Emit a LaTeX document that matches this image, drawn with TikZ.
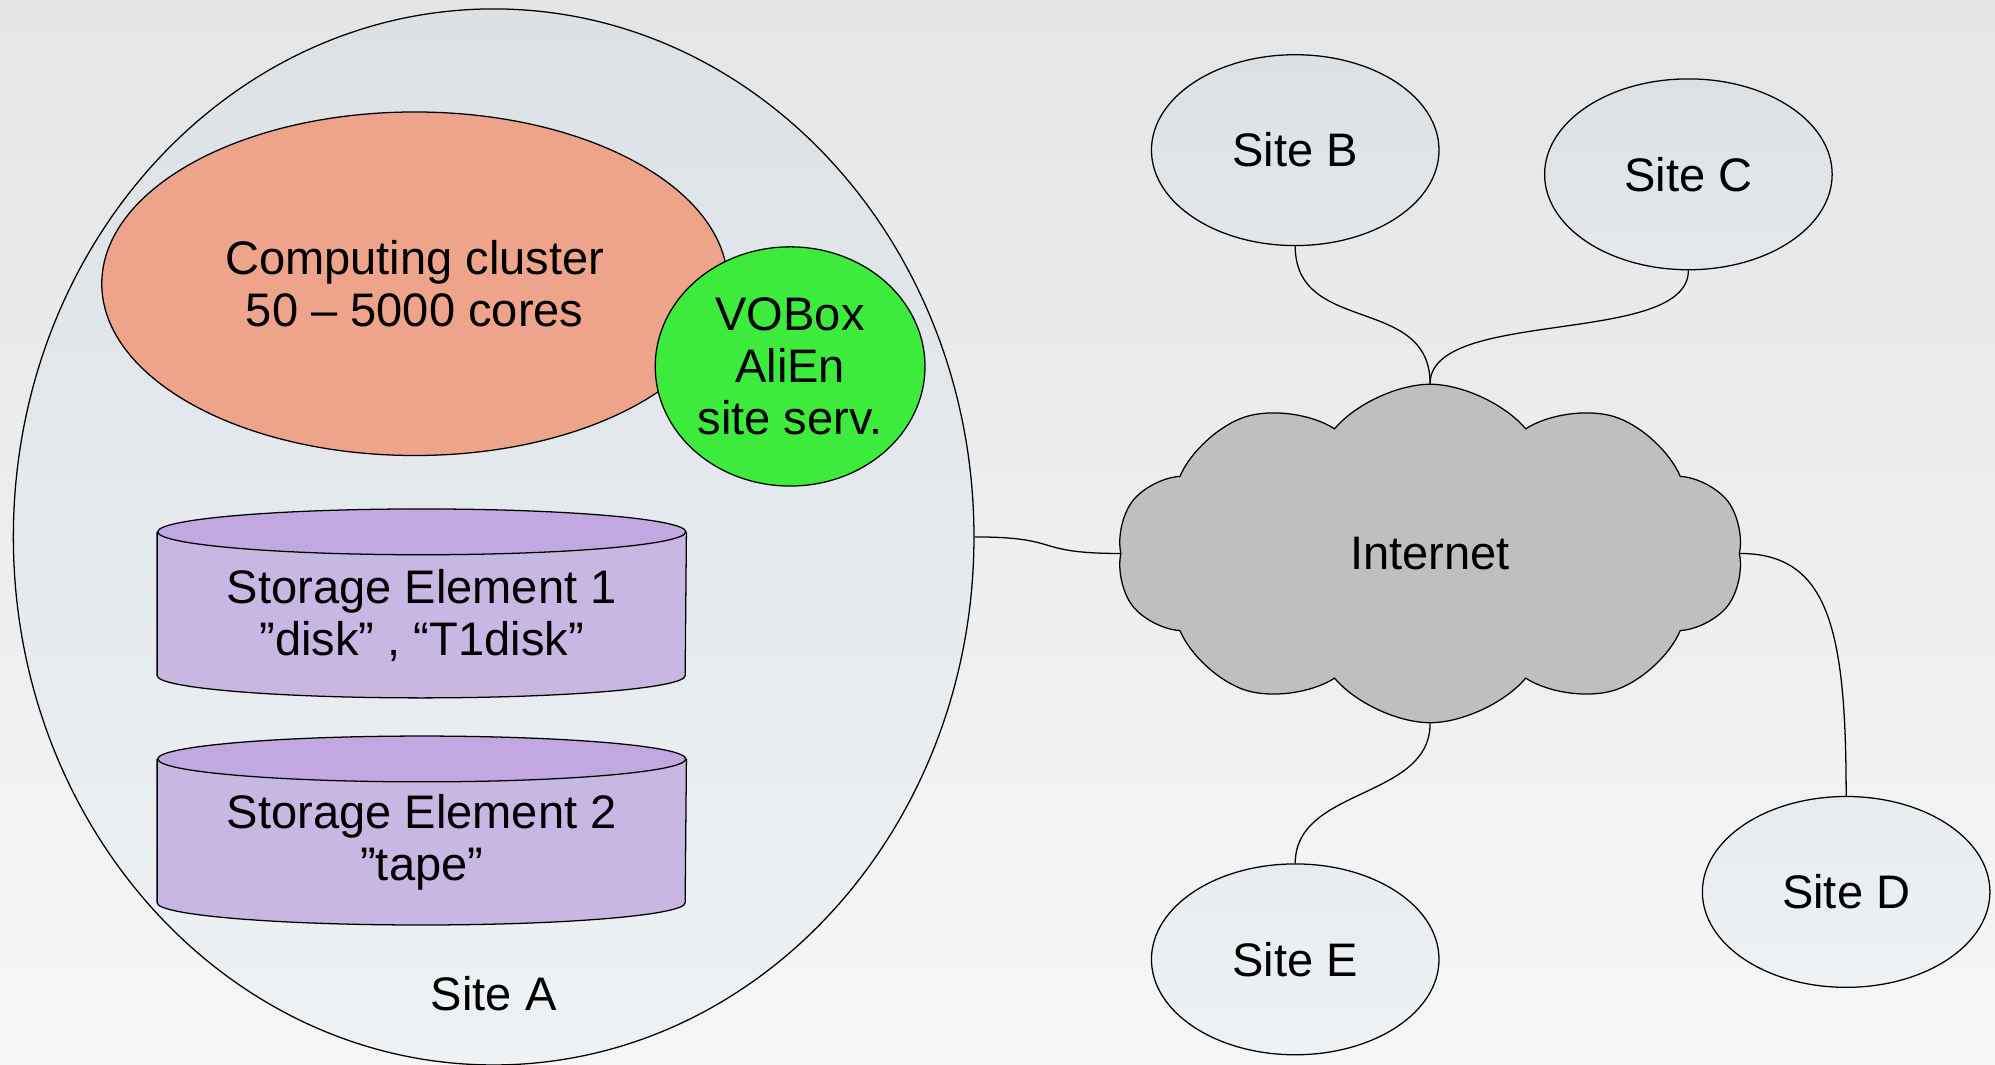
\documentclass[tikz,border=0pt]{standalone}
\usepackage{fontspec}
\setmainfont{Liberation Sans}
\usetikzlibrary{shapes.geometric, shapes.symbols}

\definecolor{bgtop}{HTML}{E5E5E5}
\definecolor{bgbot}{HTML}{F6F6F6}
\definecolor{sitetop}{HTML}{DCE1E6}
\definecolor{sitebot}{HTML}{EEF2F5}
\definecolor{clusterfill}{HTML}{EEA38B}
\definecolor{voboxfill}{HTML}{3DEB3D}
\definecolor{setop}{HTML}{C2A8E0}
\definecolor{sebody}{HTML}{C8B6E3}
\definecolor{netfill}{HTML}{BFBFBF}

\begin{document}
\begin{tikzpicture}[x=0.5pt, y=-0.5pt, line width=0.5pt,
    every node/.style={font=\fontsize{18.5}{20.5}\selectfont, align=center},
    region/.style={ellipse, draw, inner sep=0pt},
    site/.style={region, minimum width=113pt, minimum height=75pt},
    store/.style={rectangle, inner sep=0pt, minimum width=207.5pt, minimum height=56pt},
    link/.style={draw, line width=0.5pt}]
  \useasboundingbox (0,0) rectangle (1568,837);
  \shade[top color=bgtop, bottom color=bgbot] (0,0) rectangle (1568,837);

  % site A and what it holds
  \node[region, top color=sitetop, bottom color=sitebot,
    minimum width=377.5pt, minimum height=415pt] (sitea) at (388,422) {};
  \node[region, fill=clusterfill, minimum width=246pt, minimum height=135pt]
    (cluster) at (326,223) {Computing cluster\\50 – 5000 cores};
  \node[region, fill=voboxfill, minimum width=106pt, minimum height=94pt]
    (vobox) at (621,288) {VOBox\\AliEn\\site serv.};

  % storage elements: body nodes, cylinders drawn round them
  \node[store] (se1) at (331.5,474.5) {};
  \node[store] (se2) at (331.5,653) {};
  \foreach \se in {se1, se2} {
    \draw[fill=sebody] (\se.north west) -- (\se.south west)
      arc[start angle=180, end angle=360, x radius=103.75pt, y radius=8.75pt]
      -- (\se.north east);
    \draw[fill=setop] (\se.north) ellipse[x radius=103.75pt, y radius=9pt];
  }
  \node[yshift=-4.5pt] (se1label) at (se1) {Storage Element 1\\”disk” , “T1disk”};
  \node[yshift=-4.5pt] (se2label) at (se2) {Storage Element 2\\”tape”};
  \node (sitealabel) at (388,781) {Site A};

  % the other sites
  \node[site, top color=sitetop, bottom color=sitetop!70!sitebot] (siteb) at (1018,118) {Site B};
  \node[site, top color=sitetop, bottom color=sitetop!60!sitebot] (sitec) at (1327,137) {Site C};
  \node[site, top color=sitetop!40!sitebot, bottom color=sitebot] (sited) at (1451,701) {Site D};
  \node[site, top color=sitetop!35!sitebot, bottom color=sitebot] (sitee) at (1018,754) {Site E};

  \node[cloud, draw, fill=netfill, cloud puffs=10, cloud puff arc=100, aspect=1.85,
    minimum width=246pt, minimum height=133pt] (net) at (1124,435) {Internet};

  % links
  \draw[link] (siteb.south) .. controls +(0,70) and +(0,-70) .. (net.north);
  \draw[link] (sitec.south) .. controls +(0,60) and +(0,-60) .. (net.north);
  \draw[link] (sitea.east) .. controls +(70,0) and +(-70,0) .. (net.west);
  \draw[link] (net.east) .. controls +(70,0) and +(0,-130) .. (sited.north);
  \draw[link] (net.south) .. controls +(0,60) and +(0,-60) .. (sitee.north);
\end{tikzpicture}
\end{document}
